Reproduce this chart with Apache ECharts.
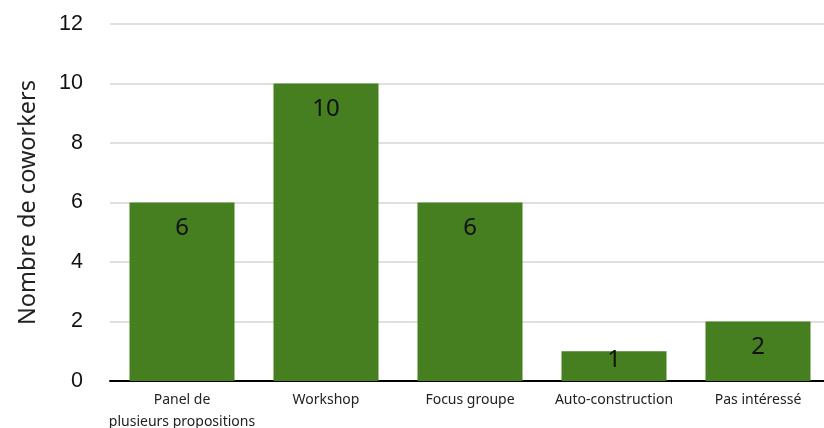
<!DOCTYPE html>
<html><head><meta charset="utf-8">
<script src="https://cdn.jsdelivr.net/npm/echarts@6/dist/echarts.min.js"></script>
<style>html,body{margin:0;padding:0;background:#fff}#c{width:824px;height:428px}</style>
</head><body><div id="c"></div>
<script>
const categories = ['Panel de\nplusieurs propositions', 'Workshop', 'Focus groupe', 'Auto-construction', 'Pas intéressé'];
const values = [6, 10, 6, 1, 2];
const yTicks = {min: 0, max: 12, interval: 2};
const yName = 'Nombre de coworkers';

const chart = echarts.init(document.getElementById('c'));
const data = values.map(v => v < 2
  ? {value: v, label: {position: 'insideBottom', distance: 9}}
  : {value: v});
chart.setOption({
  animation: false,
  grid: {left: 110, right: -6, top: 24, bottom: 47, outerBoundsMode: 'none', containLabel: false},
  xAxis: {
    type: 'category', data: categories,
    axisLine: {lineStyle: {color: '#000', width: 2}},
    axisTick: {show: false},
    axisLabel: {color: '#222', fontFamily: 'Noto Sans', fontSize: 14, margin: 8, lineHeight: 22, interval: 0}
  },
  yAxis: {
    type: 'value', min: yTicks.min, max: yTicks.max, interval: yTicks.interval,
    name: yName, nameLocation: 'middle', nameGap: 70,
    nameTextStyle: {color: '#222', fontFamily: 'Noto Sans', fontSize: 23.5},
    axisLine: {show: false}, axisTick: {show: false},
    axisLabel: {color: '#111', fontFamily: 'Liberation Sans', fontSize: 21.5, margin: 27},
    splitLine: {lineStyle: {color: '#d6d6d6', width: 1.5}}
  },
  series: [{
    type: 'bar', data: data, barWidth: 105,
    itemStyle: {color: '#467f1f'},
    label: {show: true, position: 'insideTop', distance: 14, color: '#111', fontFamily: 'Noto Sans', fontSize: 24}
  }]
});
</script></body></html>
